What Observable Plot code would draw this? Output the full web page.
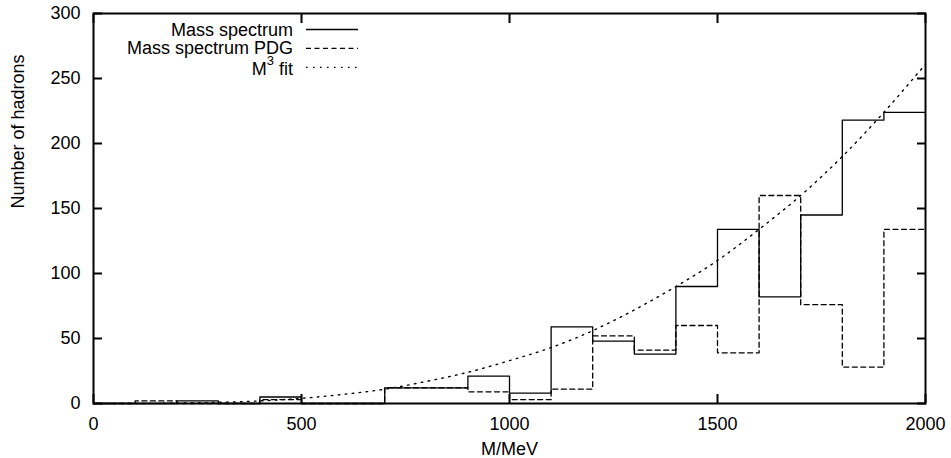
<!DOCTYPE html>
<html>
<head>
<meta charset="utf-8">
<script src="https://cdn.jsdelivr.net/npm/d3@7"></script>
<script src="https://cdn.jsdelivr.net/npm/@observablehq/plot@0.6"></script>
<style>
  html, body { margin: 0; padding: 0; background: #fff; }
  #chart svg { display: block; }
</style>
</head>
<body>
<div id="chart"></div>
<script>
// Bin lower edges (MeV), 100 MeV wide bins
const binStart = [0,100,200,300,400,500,600,700,800,900,1000,1100,1200,1300,1400,1500,1600,1700,1800,1900];
const binEnd = 2000;
// Mass spectrum (solid)
const massSpectrum = [0,0,2,0,5,0,0,12,12,21,8,59,48,38,90,134,82,145,218,224];
// Mass spectrum PDG (dashed)
const massSpectrumPDG = [0,2,0,0,3,0,0,12,12,9,3,11,52,41,60,39,160,76,28,134];
// M^3 fit (dotted)
const fitM = [0,100,200,300,400,500,600,700,800,900,1000,1100,1200,1300,1400,1500,1600,1700,1800,1900,2000];
const fitN = [0,0,0.3,0.9,2,4,7,11,17,24,33,43,56,72,90,110,134,160,190,224,261];
// Axis ticks
const xTicks = [0,500,1000,1500,2000];
const yTicks = [0,50,100,150,200,250,300];
const xLabel = "M/MeV";
const yLabel = "Number of hadrons";
const legendLabels = ["Mass spectrum", "Mass spectrum PDG", "M", "3", " fit"];

const FONT = "'Liberation Sans', Arial, Helvetica, sans-serif";
const FS = 18;

function steps(vals) {
  const pts = binStart.map((m, i) => ({m, n: vals[i]}));
  pts.push({m: binEnd, n: vals[vals.length - 1]});
  return pts;
}
const solidData = steps(massSpectrum);
const dashedData = steps(massSpectrumPDG);
const fitData = fitM.map((m, i) => ({m, n: fitN[i]}));
const plain = d => String(d);

const chart = Plot.plot({
  width: 951,
  height: 458,
  marginTop: 13,
  marginBottom: 55,
  marginLeft: 93,
  marginRight: 26,
  style: {fontFamily: FONT, fontSize: FS + "px", color: "#000", background: "#fff", overflow: "visible"},
  x: {domain: [0, 2000], axis: null},
  y: {domain: [0, 300], axis: null},
  marks: [
    Plot.line(fitData, {x: "m", y: "n", curve: "catmull-rom", stroke: "#000", strokeWidth: 1.4, strokeDasharray: "1.6,5.4"}),
    Plot.line(dashedData, {x: "m", y: "n", curve: "step-after", stroke: "#000", strokeWidth: 1.3, strokeDasharray: "5,3.5"}),
    Plot.line(solidData, {x: "m", y: "n", curve: "step-after", stroke: "#000", strokeWidth: 1.3}),
    Plot.axisX(xTicks, {anchor: "bottom", tickSize: -9, tickPadding: 23, tickFormat: plain, strokeWidth: 2, label: null}),
    Plot.axisX(xTicks, {anchor: "top", tickSize: -9, tickFormat: () => "", strokeWidth: 2, label: null}),
    Plot.axisY(yTicks, {anchor: "left", tickSize: -9, tickPadding: 22, tickFormat: plain, strokeWidth: 2, label: null}),
    Plot.axisY(yTicks, {anchor: "right", tickSize: -9, tickFormat: () => "", strokeWidth: 2, label: null}),
    Plot.frame({stroke: "#000", strokeWidth: 2}),
    Plot.text([xLabel], {frameAnchor: "bottom", dy: 45.5, lineAnchor: "middle", fill: "#000"}),
    Plot.text([yLabel], {frameAnchor: "left", dx: -75, rotate: -90, lineAnchor: "middle", fill: "#000"})
  ]
});
document.getElementById("chart").appendChild(chart);

// Legend (inside top-left of the frame)
const svg = d3.select(chart);
const lg = svg.append("g").attr("font-family", FONT).attr("font-size", FS).attr("fill", "#000");
const rows = [
  {y: 36, ly: 29.5, dash: null},
  {y: 54, ly: 48.3, dash: "5,3.5"},
  {y: 75, ly: 67.3, dash: "1.6,5.4"}
];
lg.append("text").attr("x", 293).attr("y", rows[0].y).attr("text-anchor", "end").text(legendLabels[0]);
lg.append("text").attr("x", 293).attr("y", rows[1].y).attr("text-anchor", "end").text(legendLabels[1]);
const t3 = lg.append("text").attr("x", 293).attr("y", rows[2].y).attr("text-anchor", "end");
t3.append("tspan").text(legendLabels[2]);
t3.append("tspan").attr("dy", -10).attr("font-size", 13).text(legendLabels[3]);
t3.append("tspan").attr("dy", 10).text(legendLabels[4]);
rows.forEach(r => {
  const ln = lg.append("line").attr("x1", 306).attr("x2", 358)
    .attr("y1", r.ly).attr("y2", r.ly)
    .attr("stroke", "#000").attr("stroke-width", 1.3);
  if (r.dash) ln.attr("stroke-dasharray", r.dash);
});
</script>
</body>
</html>
